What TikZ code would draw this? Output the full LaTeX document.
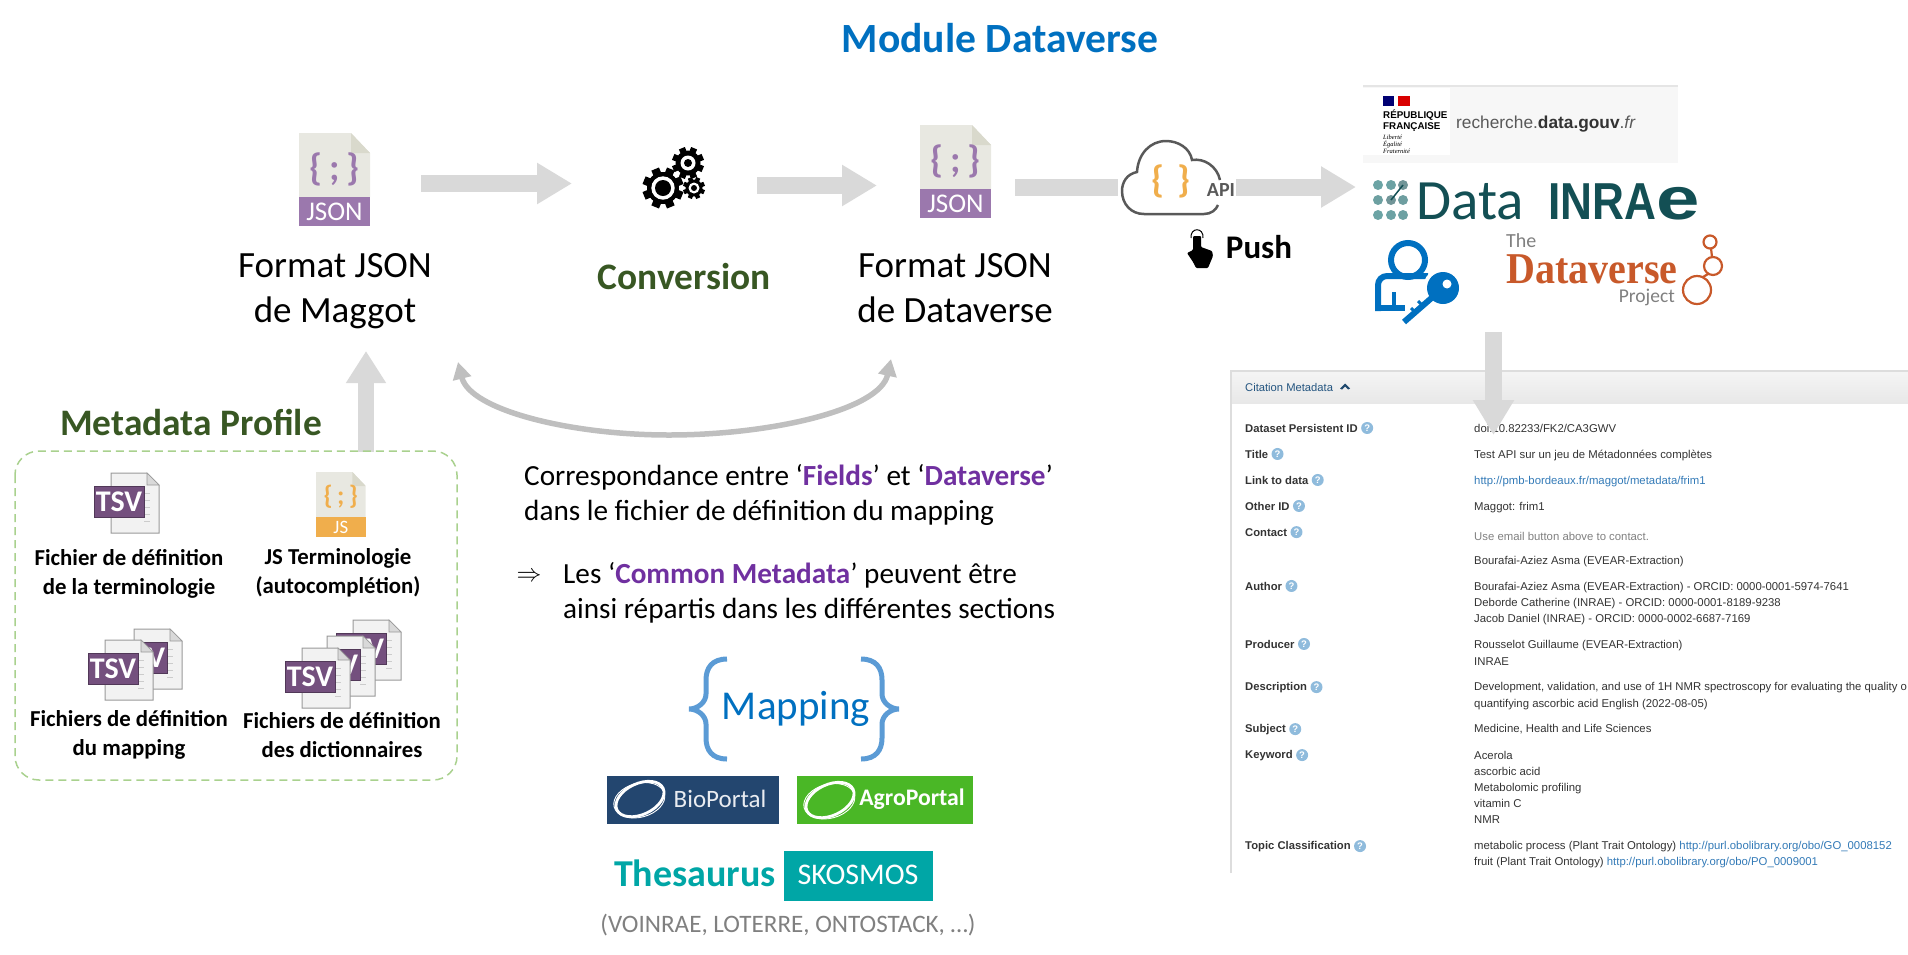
\documentclass[tikz,border=0pt]{standalone}
\usepackage{fontspec}
\usepackage{graphicx}
\setmainfont{Carlito}
\newfontfamily\panelfont{Liberation Sans}
\newfontfamily\logoserif{Liberation Serif}
\usetikzlibrary{arrows.meta, positioning}

\definecolor{titleblue}{HTML}{0070C0}
\definecolor{bracketblue}{HTML}{5B9BD5}
\definecolor{darkgreen}{HTML}{385723}
\definecolor{dashgreen}{HTML}{A9D18E}
\definecolor{blockgray}{HTML}{D9D9D9}
\definecolor{loopgray}{HTML}{BFBFBF}
\definecolor{hlpurple}{HTML}{7030A0}
\definecolor{jsonpurple}{HTML}{9B78AD}
\definecolor{jsorange}{HTML}{F0AE4C}
\definecolor{pagebeige}{HTML}{E8E8E1}
\definecolor{foldbeige}{HTML}{D9D9CC}
\definecolor{tsvpurple}{HTML}{74507E}
\definecolor{bioblue}{HTML}{23466F}
\definecolor{agrogreen}{HTML}{4AB726}
\definecolor{skosteal}{HTML}{00A6A6}
\definecolor{inraeteal}{HTML}{134F54}
\definecolor{dvorange}{HTML}{C8592A}
\definecolor{panelline}{HTML}{DDDDDD}
\definecolor{paneltext}{HTML}{333333}
\definecolor{panellink}{HTML}{337AB7}
\definecolor{helpblue}{HTML}{8FBBDC}

\newcommand{\fs}[2]{\fontsize{#1}{#2}\selectfont}
\newcommand{\hl}[1]{{\bfseries\color{hlpurple}#1}}

\tikzset{
	x=1pt, y=-1pt,
	block arrow/.style={draw=blockgray, line width=17pt, -{Triangle[length=35pt,width=39pt]}},
	block shaft/.style={draw=blockgray, line width=17pt},
	loop arrow/.style={draw=loopgray, line width=5.5pt, {Triangle[length=17pt,width=18pt]}-{Triangle[length=17pt,width=18pt]}},
	main label/.style={anchor=base, inner sep=0pt, align=center, font=\fs{37}{45}},
	green title/.style={anchor=base, inner sep=0pt, text=darkgreen, font=\fs{37.4}{42}\bfseries},
	small label/.style={anchor=base, inner sep=0pt, align=center, font=\fs{22.8}{28.5}\bfseries},
	note text/.style={anchor=base west, inner sep=0pt, align=left, font=\fs{29.2}{35}},
	field label/.style={anchor=base west, inner sep=0pt, text=paneltext, font=\panelfont\fs{11.25}{14}\bfseries},
	field value/.style={anchor=base west, inner sep=0pt, text=paneltext, font=\panelfont\fs{11.35}{14}},
	field link/.style={field value, text=panellink},
	help mark/.style={circle, fill=helpblue, text=white, inner sep=0pt, minimum size=12pt, font=\panelfont\fs{9.5}{10}\bfseries},
	%source file with a coloured band
	pics/codefile/.style 2 args={code={
		\fill [pagebeige] (0,0) -- (52,0) -- (71,20) -- (71,64) -- (0,64) -- cycle;
		\fill [foldbeige] (52,0) -- (71,20) -- (52,20) -- cycle;
		\fill [#1] (0,64) rectangle (71,93);
		\node (-braces) [transform shape, inner sep=0pt, text=#1, font=\fs{38}{38}\bfseries] at (35.5,36) {\{\,;\,\}};
		\node (-kind) [transform shape, inner sep=0pt, text=white, font=\fs{27}{27}] at (35.5,79) {#2};
	}},
	%tsv sheet with its badge
	pics/tsvfile/.style={code={
		\draw [draw=gray!80, fill=gray!10, line width=1pt] (17,0) -- (53,0) -- (65,12) -- (65,60) -- (17,60) -- cycle;
		\draw [draw=gray!80, fill=gray!30, line width=.6pt] (53,0) -- (65,12) -- (53,12) -- cycle;
		\foreach \y in {20,27,34,41,48} \draw [gray!40, line width=1pt] (50,\y) -- (56,\y);
		\node (-badge) [draw=tsvpurple!70!black, fill=tsvpurple, text=white, inner sep=0pt, minimum width=50pt, minimum height=31pt, font=\fs{30}{30}\bfseries] at (25,28.5) {TSV};
	}},
	%one wheel of the gears
	pics/gearwheel/.style n args={4}{code={
		\fill circle (#2);
		\foreach \a in {0,45,...,315} \fill [rotate=\a+22.5] (-#1*.2,0) rectangle (#1*.2,#1);
		\fill [white] circle (#3);
		\fill circle (#4);
	}},
	%portal logo
	pics/portalring/.style={code={
		\draw [white, line width=2.8pt, rotate=25] (0,0) ellipse [x radius=25.5, y radius=15.5];
		\draw [white, line width=.9pt, rotate=15] (-1,1) ellipse [x radius=26, y radius=17];
	}},
}

\begin{document}
\begin{tikzpicture}
	\useasboundingbox (0,0) rectangle (1908,954);
	
	\coordinate (maggot out) at (421,183.5);
	\coordinate (gears in) at (572,183.5);
	\coordinate (gears out) at (757,185.5);
	\coordinate (dataverse in) at (877,185.5);
	\coordinate (dataverse out) at (1015,187);
	\coordinate (cloud in) at (1118,187);
	\coordinate (cloud out) at (1236,187);
	\coordinate (logos in) at (1356,187);
	\coordinate (logos out) at (1493.5,332);
	\coordinate (panel in) at (1493.5,435);
	\coordinate (profile out) at (366,452);
	\coordinate (maggot in) at (366,351);
	\coordinate (loop left) at (458,362);
	\coordinate (loop right) at (891,359);
	
	\node (title) [anchor=base, inner sep=0pt, text=titleblue, font=\fs{41.6}{42}\bfseries] at (1000,52) {Module Dataverse};
	
	%citation panel
	\begin{scope}
		\clip (1230,368) rectangle (1908,873);
		\fill [top color=gray!8, bottom color=gray!18] (1231,371) rectangle (1908,403);
		\draw [panelline, line width=1.2pt] (1231,873) -- (1231,371) -- (1908,371);
		\node (panel head) [anchor=base west, inner sep=0pt, text=panellink!70!black, font=\panelfont\fs{11.2}{14}] at (1245,391) {Citation Metadata};
		\fill [panellink!60!black] (1340,388.5) -- (1345,383.5) -- (1350,388.5) -- (1348,389.5) -- (1345,386.5) -- (1342,389.5) -- cycle;
		
		\foreach \i/\y/\lab in {1/432/Dataset Persistent ID, 2/458/Title, 3/484/Link to data, 4/510/Other ID, 5/536/Contact, 6/590/Author, 7/648/Producer, 8/690/Description, 9/732/Subject, 10/758/Keyword, 11/849/Topic Classification}
		{
			\node (field \i) [field label] at (1245,\y) {\lab};
			\node (help \i) [help mark, right=3pt of field \i] {?};
		}
		
		\node (value doi) [field value] at (1474,432) {doi:10.82233/FK2/CA3GWV};
		\node (value title) [field value] at (1474,458) {Test API sur un jeu de Métadonnées complètes};
		\node (value link) [field link] at (1474,484) {http://pmb-bordeaux.fr/maggot/metadata/frim1};
		\node (value other) [field value] at (1474,510) {Maggot: frim1};
		\node (value mail) [field value, text=gray] at (1474,540) {Use email button above to contact.};
		\node (value contact) [field value] at (1474,564) {Bourafai-Aziez Asma (EVEAR-Extraction)};
		\node (value author a) [field value] at (1474,590) {Bourafai-Aziez Asma (EVEAR-Extraction) - ORCID: 0000-0001-5974-7641};
		\node (value author b) [field value] at (1474,606) {Deborde Catherine (INRAE) - ORCID: 0000-0001-8189-9238};
		\node (value author c) [field value] at (1474,622) {Jacob Daniel (INRAE) - ORCID: 0000-0002-6687-7169};
		\node (value producer a) [field value] at (1474,648) {Rousselot Guillaume (EVEAR-Extraction)};
		\node (value producer b) [field value] at (1474,665) {INRAE};
		\node (value desc a) [field value] at (1474,690) {Development, validation, and use of 1H NMR spectroscopy for evaluating the quality o};
		\node (value desc b) [field value] at (1474,707) {quantifying ascorbic acid English (2022-08-05)};
		\node (value subject) [field value] at (1474,732) {Medicine, Health and Life Sciences};
		\node (value key a) [field value] at (1474,759) {Acerola};
		\node (value key b) [field value] at (1474,775) {ascorbic acid};
		\node (value key c) [field value] at (1474,791) {Metabolomic profiling};
		\node (value key d) [field value] at (1474,807) {vitamin C};
		\node (value key e) [field value] at (1474,823) {NMR};
		\node (value topic a) [field value] at (1474,849) {metabolic process (Plant Trait Ontology) \textcolor{panellink}{http://purl.obolibrary.org/obo/GO\_0008152}};
		\node (value topic b) [field value] at (1474,865) {fruit (Plant Trait Ontology) \textcolor{panellink}{http://purl.obolibrary.org/obo/PO\_0009001}};
	\end{scope}
	
	%arrows
	\draw [block arrow] (maggot out) -- (gears in);
	\draw [block arrow] (gears out) -- (dataverse in);
	\draw [block shaft] (dataverse out) -- (cloud in);
	\draw [block arrow] (cloud out) -- (logos in);
	\draw [block arrow] (logos out) -- (panel in);
	\draw [block arrow, line width=16pt, -{Triangle[length=32pt,width=38pt]}] (profile out) -- (maggot in);
	\draw [loop arrow] (loop left) .. controls (470,410) and (570,435) .. (669,435) .. controls (770,435) and (880,410) .. (loop right);
	
	%json files
	\pic (json maggot) at (299,133) {codefile={jsonpurple}{JSON}};
	\pic (json dataverse) at (920,125) {codefile={jsonpurple}{JSON}};
	\node (maggot label) [main label] at (335,322) {Format JSON\\de Maggot};
	\node (dataverse label) [main label] at (955,322) {Format JSON\\de Dataverse};
	
	%gears
	\pic at (663,188) {gearwheel={20.5}{16}{11.7}{8}};
	\pic at (688,163) {gearwheel={16}{12.5}{7.5}{4}};
	\pic at (694,188) {gearwheel={11}{8.5}{5.5}{3}};
	\node (conversion) [green title] at (684,289) {Conversion};
	
	%metadata profile
	\node (profile title) [green title] at (191,435) {Metadata Profile};
	\draw [dashgreen, line width=1.5pt, dash pattern=on 8pt off 5pt, rounded corners=24pt] (15,451) rectangle (457,780);
	\pic (tsv terminologie) at (94,473) {tsvfile};
	\pic (js terminologie) [scale=.7] at (316,472) {codefile={jsorange}{JS}};
	\pic (tsv mapping back) at (117,629) {tsvfile};
	\pic (tsv mapping) at (88,640) {tsvfile};
	\pic (tsv dict back) at (336,620) {tsvfile};
	\pic (tsv dict mid) at (310,636) {tsvfile};
	\pic (tsv dict) at (285,648) {tsvfile};
	\node (terminologie label) [small label] at (129,594) {Fichier de définition\\de la terminologie};
	\node (js label) [small label] at (338,593) {JS Terminologie\\(autocomplétion)};
	\node (mapping label) [small label] at (129,755) {Fichiers de définition\\du mapping};
	\node (dict label) [small label] at (342,757) {Fichiers de définition\\des dictionnaires};
	
	%mapping notes
	\node (note mapping) [note text] at (524,520) {Correspondance entre ‘\hl{Fields}’ et ‘\hl{Dataverse}’\\dans le fichier de définition du mapping};
	\node (implies) [inner sep=0pt, font=\fs{26}{26}] at (529,577) {$\Rightarrow$};
	\node (note common) [note text] at (563,618) {Les ‘\hl{Common Metadata}’ peuvent être\\ainsi répartis dans les différentes sections};
	
	\draw [bracketblue, line width=5pt] (727,659) .. controls (712,659) and (706,668) .. (706,680) -- (706,694) .. controls (706,702) and (698,709) .. (689,709) .. controls (698,709) and (706,716) .. (706,724) -- (706,738) .. controls (706,750) and (712,759) .. (727,759);
	\draw [bracketblue, line width=5pt] (861,659) .. controls (876,659) and (882,668) .. (882,680) -- (882,694) .. controls (882,702) and (890,709) .. (899,709) .. controls (890,709) and (882,716) .. (882,724) -- (882,738) .. controls (882,750) and (876,759) .. (861,759);
	\node (mapping) [anchor=base, inner sep=0pt, text=titleblue, font=\fs{41}{41}] at (796,719) {Mapping};
	
	\fill [bioblue] (607,776) rectangle (779,824);
	\pic at (640,799) {portalring};
	\node (bioportal) [anchor=base, inner sep=0pt, text=white!90!bioblue, font=\fs{25}{25}] at (720,807) {BioPortal};
	\fill [agrogreen] (797,776) rectangle (973,824);
	\pic at (830,800) {portalring};
	\node (agroportal) [anchor=base, inner sep=0pt, text=white, font=\fs{23.7}{25}\bfseries] at (912,805) {AgroPortal};
	
	\node (thesaurus) [anchor=base, inner sep=0pt, text=skosteal, font=\fs{38}{38}\bfseries] at (695,886) {Thesaurus};
	\fill [skosteal] (784,851) rectangle (933,901);
	\node (skosmos) [anchor=base, inner sep=0pt, text=white, font=\fs{30}{30}] at (858,884) {SKOSMOS};
	\node (thesaurus list) [anchor=base, inner sep=0pt, text=gray, font=\fs{25.1}{27}] at (788,932) {(VOINRAE, LOTERRE, ONTOSTACK, …)};
	
	%api cloud
	\draw [black!65, line width=2.5pt] (1220,180) .. controls (1217,166) and (1204,158) .. (1192,160) .. controls (1190,148) and (1178,141) .. (1166,141) .. controls (1150,141) and (1138,154) .. (1137,172) .. controls (1127,174) and (1122,182) .. (1122,191) .. controls (1122,204) and (1131,214) .. (1144,214) -- (1204,214) .. controls (1211,214) and (1216,210) .. (1218,205);
	\node (api braces) [inner sep=0pt, text=jsorange, font=\fs{38}{38}\bfseries] at (1171,181) {\{\,\,\}};
	\node (api) [anchor=base, inner sep=0pt, text=black!65, font=\fs{20}{20}\bfseries] at (1221,196) {API};
	
	%push
	\fill [rounded corners=1pt] (1193,236) -- (1193,250) -- (1187,253) -- (1193,262) -- (1196,268) -- (1208,268) -- (1213,256) -- (1212,251) -- (1201,247) -- (1201,236) -- cycle;
	\draw [line width=1pt] (1191,238) .. controls (1190,227) and (1204,227) .. (1203,238);
	\node (push) [anchor=base, inner sep=0pt, font=\fs{33}{33}\bfseries] at (1259,258) {Push};
	
	%recherche data gouv
	\fill [gray!6] (1363,87) rectangle (1678,163);
	\draw [gray!20, line width=2pt] (1363,86) -- (1678,86);
	\fill [white] (1363,88) rectangle (1450,155);
	\fill [blue!45!black] (1383,96) rectangle (1394,106);
	\fill [red!85!black] (1398,96) rectangle (1410,106);
	\node (republique) [anchor=base west, inner sep=0pt, align=left, font=\panelfont\fs{9.8}{11}\bfseries] at (1383,129) {RÉPUBLIQUE\\FRANÇAISE};
	\node (devise) [anchor=base west, inner sep=0pt, align=left, font=\logoserif\fs{6.5}{7}\itshape] at (1383,153) {Liberté\\Égalité\\Fraternité};
	\node (recherche) [anchor=base west, inner sep=0pt, text=black!65, font=\panelfont\fs{17.3}{18}] at (1456,128) {recherche.\textbf{\textcolor{black!80}{data.gouv}}.\textit{fr}};
	
	%data inrae
	\foreach \px/\py/\dotcol in {1378/185/50, 1391/185/55, 1403/185/100, 1378/200/65, 1391/200/100, 1403/200/70, 1378/215/50, 1391/215/55, 1403/215/60}
	\fill [inraeteal!\dotcol!teal!60!white] (\px,\py) circle (5);
	\draw [inraeteal, line width=1.5pt] (1403,185) -- (1391,200);
	\node (data) [anchor=base west, inner sep=0pt, text=inraeteal, font=\fs{57}{57}] at (1416,219) {Data};
	\node (inrae) [anchor=base west, inner sep=0pt, text=inraeteal, font=\panelfont\fs{52}{52}\bfseries] at (1548,219) {\scalebox{.85}[1]{INRA}\scalebox{1.5}[1.15]{e}};
	
	%user and key
	\draw [titleblue, line width=6pt] (1408,260) circle (17);
	\draw [titleblue, line width=6pt, rounded corners=9pt] (1378,311) -- (1378,276) -- (1428,276);
	\draw [titleblue, line width=6pt] (1378,308) -- (1405,308);
	\draw [titleblue, line width=4pt] (1394,292) -- (1394,308);
	\draw [white, line width=12pt] (1443,288) -- (1405,322);
	\fill [white] (1443,288) circle (20);
	\draw [titleblue, line width=6pt] (1443,288) -- (1404,322);
	\draw [titleblue, line width=3pt] (1418,301) -- (1423,306);
	\draw [titleblue, line width=3pt] (1411,308) -- (1416,313);
	\fill [titleblue] (1443,288) circle (16);
	\fill [white] (1447,284) circle (4.5);
	
	%dataverse project
	\node (dv the) [anchor=base west, inner sep=0pt, text=gray, font=\fs{20}{20}] at (1506,247) {The};
	\node (dv name) [anchor=base west, inner sep=0pt, text=dvorange, font=\logoserif\fs{44}{44}\bfseries] at (1506,283) {\scalebox{.91}[1]{Dataverse}};
	\node (dv project) [anchor=base east, inner sep=0pt, text=gray, font=\fs{19.5}{20}] at (1675,302) {Project};
	\draw [dvorange, line width=2.2pt] (1710,242) circle (6.5);
	\draw [dvorange, line width=2.2pt] (1713,266) circle (9);
	\draw [dvorange, line width=2.2pt] (1697,290) circle (14);
	\draw [dvorange, line width=2.2pt] (1711,248) -- (1712,257);
	\draw [dvorange, line width=2.2pt] (1708,274) -- (1703,277);
\end{tikzpicture}
\end{document}
